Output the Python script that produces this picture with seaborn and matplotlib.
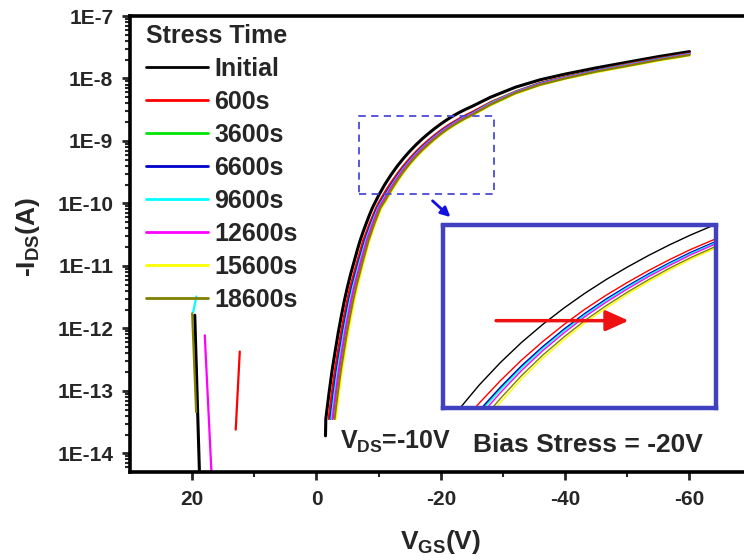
import numpy as np
import pandas as pd
import matplotlib
matplotlib.use("Agg")
import matplotlib.pyplot as plt
import seaborn as sns
from matplotlib.patches import Rectangle
from matplotlib.lines import Line2D
from matplotlib.ticker import FixedLocator, FuncFormatter, NullFormatter

# ---------------- data (log10 of -I_DS in A vs V_GS in V) ----------------
labels = ['Initial', '600s', '3600s', '6600s', '9600s', '12600s', '15600s', '18600s']
colors = ['#000000', '#FF0000', '#00E600', '#0000CC', '#00FFFF', '#FF00FF', '#FFFF00', '#808000']

v_initial = [-1.45, -1.5, -2.0, -2.5, -3.0, -3.5, -4.0, -4.5, -5.0, -5.5, -6.0, -6.5, -7.0, -7.5, -8.0,
             -8.5, -9.0, -10, -11, -12, -13, -14, -15, -16, -17, -18, -19, -20, -21, -22, -23, -24,
             -25, -28, -32, -36, -40, -45, -50, -55, -60]
logi_initial = [-13.72, -13.45, -13.05, -12.68, -12.37, -12.07, -11.80, -11.55, -11.33, -11.13, -10.95,
                -10.77, -10.60, -10.455, -10.32, -10.19, -10.07, -9.871, -9.696, -9.541, -9.402, -9.278,
                -9.165, -9.062, -8.968, -8.882, -8.802, -8.728, -8.660, -8.598, -8.543, -8.493,
                -8.448, -8.30, -8.14, -8.02, -7.93, -7.83, -7.74, -7.65, -7.57]

v_600 = [-1.95, -2.45, -2.95, -3.45, -3.95, -4.45, -4.95, -5.45, -6.5, -7.5, -8.55, -9.6,
         -10, -11, -12, -13, -14, -15, -16, -17, -18, -19, -20, -21, -22, -23, -24,
         -25, -28, -32, -36, -40, -45, -50, -55, -60]
logi_600 = [-13.45, -13.05, -12.68, -12.37, -12.07, -11.80, -11.55, -11.33, -10.95, -10.60, -10.32, -10.07,
            -9.991, -9.821, -9.666, -9.524, -9.396, -9.279, -9.172, -9.076, -8.988, -8.906, -8.830,
            -8.760, -8.698, -8.641, -8.588,
            -8.54, -8.38, -8.21, -8.07, -7.97, -7.87, -7.77, -7.68, -7.60]

v_3600 = [-2.3, -2.8, -3.3, -3.8, -4.3, -4.8, -5.3, -5.8, -6.82, -7.84, -8.85, -9.86,
          -11, -12, -13, -14, -15, -16, -17, -18, -19, -20, -21, -22, -23, -24,
          -25, -28, -32, -36, -40, -45, -50, -55, -60]
logi_3600 = [-13.45, -13.05, -12.68, -12.37, -12.07, -11.80, -11.55, -11.33, -10.95, -10.60, -10.32, -10.07,
             -9.881, -9.719, -9.570, -9.436, -9.316, -9.205, -9.107, -9.017, -8.933, -8.855, -8.784,
             -8.720, -8.662, -8.608,
             -8.562, -8.395, -8.215, -8.08, -7.98, -7.875, -7.78, -7.69, -7.61]

v_6600 = [-2.25, -2.75, -3.25, -3.75, -4.25, -4.75, -5.25, -5.75, -6.77, -7.79, -8.8, -9.82,
          -11, -12, -13, -14, -15, -16, -17, -18, -19, -20, -21, -22, -23, -24,
          -25, -28, -32, -36, -40, -45, -50, -55, -60]
logi_6600 = [-13.45, -13.05, -12.68, -12.37, -12.07, -11.80, -11.55, -11.33, -10.95, -10.60, -10.32, -10.07,
             -9.872, -9.711, -9.563, -9.431, -9.311, -9.201, -9.102, -9.013, -8.929, -8.852, -8.780,
             -8.717, -8.659, -8.605,
             -8.558, -8.40, -8.22, -8.08, -7.985, -7.875, -7.785, -7.69, -7.61]

v_9600 = [-2.4, -2.9, -3.4, -3.9, -4.4, -4.9, -5.4, -5.9, -6.91, -7.92, -8.92, -9.93,
          -11, -12, -13, -14, -15, -16, -17, -18, -19, -20, -21, -22, -23, -24,
          -25, -28, -32, -36, -40, -45, -50, -55, -60]
logi_9600 = [-13.45, -13.05, -12.68, -12.37, -12.07, -11.80, -11.55, -11.33, -10.95, -10.60, -10.32, -10.07,
             -9.892, -9.729, -9.579, -9.444, -9.323, -9.212, -9.113, -9.022, -8.938, -8.860, -8.789,
             -8.725, -8.666, -8.612,
             -8.565, -8.40, -8.22, -8.085, -7.985, -7.88, -7.785, -7.695, -7.61]

v_12600 = [-2.6, -3.1, -3.6, -4.1, -4.6, -5.1, -5.6, -6.1, -7.1, -8.08, -9.06, -10.05,
           -11, -12, -13, -14, -15, -16, -17, -18, -19, -20, -21, -22, -23, -24,
           -25, -28, -32, -36, -40, -45, -50, -55, -60]
logi_12600 = [-13.45, -13.05, -12.68, -12.37, -12.07, -11.80, -11.55, -11.33, -10.95, -10.60, -10.32, -10.07,
              -9.915, -9.749, -9.596, -9.459, -9.337, -9.224, -9.124, -9.033, -8.948, -8.870, -8.797,
              -8.733, -8.674, -8.619,
              -8.572, -8.41, -8.225, -8.09, -7.99, -7.885, -7.79, -7.70, -7.615]

v_15600 = [-3.1, -3.6, -4.1, -4.6, -5.1, -5.6, -6.1, -6.6, -7.55, -8.5, -9.48, -10.45,
           -11, -12, -13, -14, -15, -16, -17, -18, -19, -20, -21, -22, -23, -24,
           -25, -28, -32, -36, -40, -45, -50, -55, -60]
logi_15600 = [-13.45, -13.05, -12.68, -12.37, -12.07, -11.80, -11.55, -11.33, -10.95, -10.60, -10.32, -10.07,
              -9.991, -9.816, -9.654, -9.511, -9.384, -9.267, -9.164, -9.070, -8.983, -8.902, -8.828,
              -8.762, -8.701, -8.645,
              -8.595, -8.43, -8.245, -8.105, -8.005, -7.90, -7.805, -7.715, -7.63]

v_18600 = [-2.9, -3.4, -3.9, -4.4, -4.9, -5.4, -5.9, -6.4, -7.38, -8.35, -9.32, -10.29,
           -11, -12, -13, -14, -15, -16, -17, -18, -19, -20, -21, -22, -23, -24,
           -25, -28, -32, -36, -40, -45, -50, -55, -60]
logi_18600 = [-13.45, -13.05, -12.68, -12.37, -12.07, -11.80, -11.55, -11.33, -10.95, -10.60, -10.32, -10.07,
              -9.960, -9.789, -9.631, -9.490, -9.365, -9.250, -9.148, -9.055, -8.969, -8.889, -8.816,
              -8.751, -8.690, -8.635,
              -8.585, -8.42, -8.235, -8.10, -8.00, -7.89, -7.80, -7.705, -7.625]

# off-state fragments (positive V_GS side)
off_initial_v = [19.58, 18.8]
off_initial_logi = [-11.79, -14.4]
off_600_v = [12.34, 12.99]
off_600_logi = [-12.37, -13.62]
off_9600_v = [19.31, 19.84]
off_9600_logi = [-11.49, -11.74]
off_12600_v = [17.97, 16.85]
off_12600_logi = [-12.11, -14.4]
off_18600_v = [20.0, 19.36]
off_18600_logi = [-11.76, -13.34]

main_v = [v_initial, v_600, v_3600, v_6600, v_9600, v_12600, v_15600, v_18600]
main_logi = [logi_initial, logi_600, logi_3600, logi_6600, logi_9600, logi_12600, logi_15600, logi_18600]
off_parts = {'Initial': (off_initial_v, off_initial_logi), '600s': (off_600_v, off_600_logi),
             '9600s': (off_9600_v, off_9600_logi), '12600s': (off_12600_v, off_12600_logi),
             '18600s': (off_18600_v, off_18600_logi)}

x_ticks = [20, 0, -20, -40, -60]
x_minor = [10, -10, -30, -50]
y_decades = [-14, -13, -12, -11, -10, -9, -8, -7]

rows = []
for lab, vv, ll in zip(labels, main_v, main_logi):
    for v, l in zip(vv, ll):
        rows.append((lab, 'main', v, 10.0 ** l))
    if lab in off_parts:
        for v, l in zip(*off_parts[lab]):
            rows.append((lab, 'off', v, 10.0 ** l))
df = pd.DataFrame(rows, columns=['series', 'seg', 'V', 'I'])

# ---------------- style ----------------
sns.set_theme(style='ticks')
plt.rcParams['font.family'] = ['Liberation Sans', 'DejaVu Sans']
plt.rcParams['font.weight'] = 'bold'
plt.rcParams['axes.labelweight'] = 'bold'
plt.rcParams['axes.unicode_minus'] = False
plt.rcParams['mathtext.fontset'] = 'custom'
plt.rcParams['mathtext.rm'] = 'Liberation Sans:bold'
plt.rcParams['mathtext.it'] = 'Liberation Sans:bold'
plt.rcParams['mathtext.bf'] = 'Liberation Sans:bold'

W, H = 744, 560
fig = plt.figure(figsize=(W / 100, H / 100), dpi=100, facecolor='white')
ax = fig.add_axes([130 / W, 1 - 471.7 / H, 621.6 / W, 455.7 / H])
ax.set_facecolor('white')

for lab, col in zip(labels, colors):
    sub = df[df['series'] == lab]
    sns.lineplot(data=sub, x='V', y='I', units='seg', estimator=None, sort=False,
                 color=col, lw=2.2 if lab == 'Initial' else 1.6, ax=ax, legend=False)

ymin, ymax = 10 ** -14.294, 1e-7
ax.set_yscale('log')
ax.set_xlim(30, -70)
ax.set_ylim(ymin, ymax)
ax.xaxis.set_major_locator(FixedLocator(x_ticks))
ax.xaxis.set_minor_locator(FixedLocator(x_minor))
ax.xaxis.set_major_formatter(FuncFormatter(lambda v, p: f"{int(v)}"))
ax.yaxis.set_major_locator(FixedLocator([10.0 ** e for e in y_decades]))
minor_pos = [k * 10.0 ** e for e in range(-15, -7) for k in range(2, 10)]
ax.yaxis.set_minor_locator(FixedLocator([m for m in minor_pos if ymin <= m <= ymax]))
ax.yaxis.set_major_formatter(FuncFormatter(lambda v, p: f"1E{int(np.round(np.log10(v)))}"))
ax.yaxis.set_minor_formatter(NullFormatter())
ax.tick_params(axis='both', which='major', direction='out', length=6, width=2, labelsize=15,
               top=False, right=False)
ax.tick_params(axis='y', which='major', pad=6)
ax.tick_params(axis='x', which='major', pad=7.5)
ax.tick_params(axis='both', which='minor', direction='out', length=3.5, width=1.5, top=False, right=False)
for s in ['left', 'bottom', 'top']:
    ax.spines[s].set_linewidth(2.6)
    ax.spines[s].set_color('black')
ax.spines['right'].set_visible(False)

ax.set_xlabel(r'V$_{\mathrm{GS}}$(V)', fontsize=19, labelpad=13)
ax.set_ylabel(r'-I$_{\mathrm{DS}}$(A)', fontsize=19)
ax.yaxis.set_label_coords(-0.142, 0.514)

# dashed zoom box and arrow
ax.add_patch(Rectangle((-6.8, 10 ** -9.853), -21.72, 10 ** -8.595 - 10 ** -9.853, fill=False,
                       edgecolor='#4A4AD8', lw=1.3, ls=(0, (4, 3)), zorder=5))
ax.annotate('', xy=(-21.88, 10 ** -10.248), xytext=(-18.34, 10 ** -9.928),
            arrowprops=dict(arrowstyle='-|>', color='#1010E0', lw=2, mutation_scale=14), zorder=6)

# legend
handles = [Line2D([], [], color=c, lw=2) for c in colors]
leg = ax.legend(handles, labels, title='Stress Time', loc='upper left',
                bbox_to_anchor=(146 / W, 1 - 24 / H), bbox_transform=fig.transFigure,
                frameon=False, prop=dict(family='Liberation Sans', weight='bold', size=18),
                title_fontproperties=dict(family='Liberation Sans', weight='bold', size=18),
                handlelength=2.48, handletextpad=0.25, labelspacing=0.36, borderpad=0,
                borderaxespad=0, alignment='left')

# texts
fig.text(340 / W, 1 - 448.3 / H, r'V$_{\mathrm{DS}}$=-10V', fontsize=18, va='baseline', ha='left')
fig.text(473 / W, 1 - 451.7 / H, 'Bias Stress = -20V', fontsize=19, va='baseline', ha='left')

# inset
axi = fig.add_axes([442.8 / W, 1 - 407.8 / H, 273.4 / W, 182.3 / H])
axi.set_facecolor('white')
main_df = df[df['seg'] == 'main']
for lab, col in zip(labels, colors):
    sub = main_df[main_df['series'] == lab]
    sns.lineplot(data=sub, x='V', y='I', estimator=None, sort=False, color=col, lw=1.0,
                 ax=axi, legend=False)
axi.set_yscale('log')
axi.set_xlim(-9.28, -22.2)
axi.set_ylim(10 ** -9.853, 10 ** -8.595)
axi.xaxis.set_major_locator(FixedLocator([]))
axi.yaxis.set_major_locator(FixedLocator([]))
axi.yaxis.set_minor_locator(FixedLocator([]))
axi.set_xlabel('')
axi.set_ylabel('')
for s in axi.spines.values():
    s.set_linewidth(3.2)
    s.set_color('#4040C0')
axi.annotate('', xy=(0.68, 0.478), xytext=(0.195, 0.478), xycoords='axes fraction',
             arrowprops=dict(arrowstyle='-|>,head_length=1.0,head_width=0.45', color='#EE1111',
                             lw=2.5, mutation_scale=14, shrinkA=0, shrinkB=0))

fig.savefig('out.png', dpi=100, facecolor='white')
